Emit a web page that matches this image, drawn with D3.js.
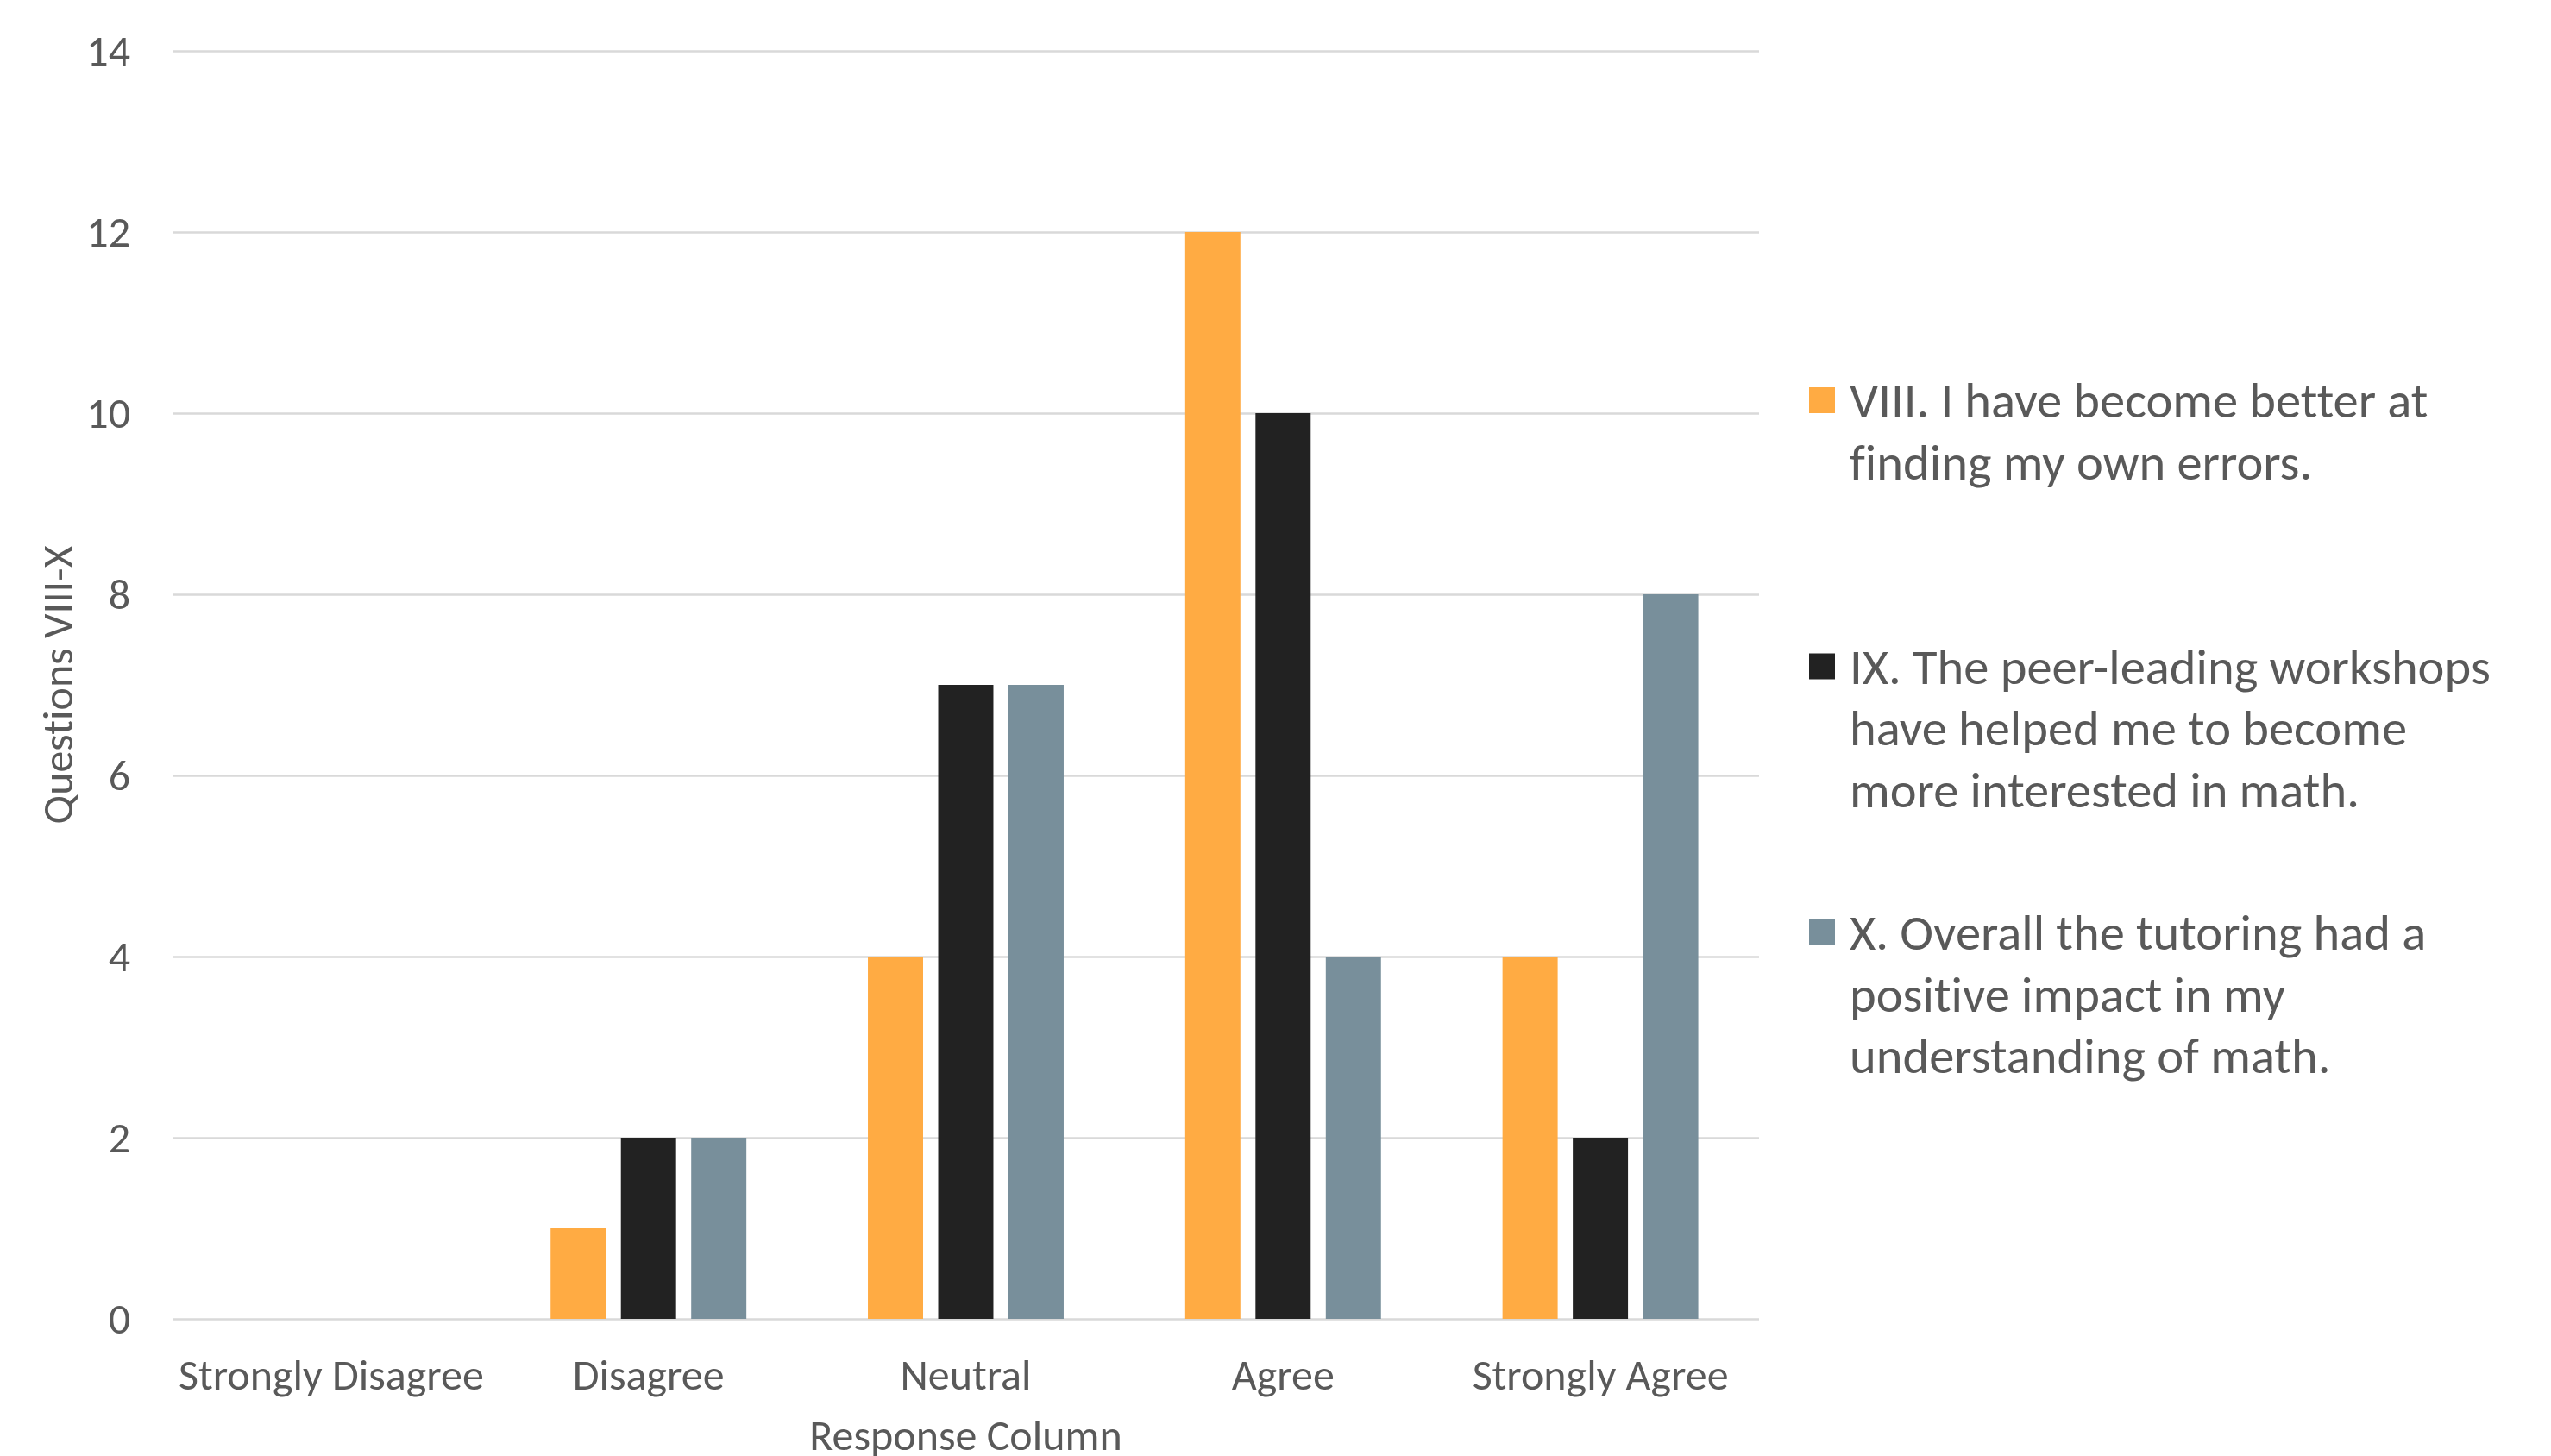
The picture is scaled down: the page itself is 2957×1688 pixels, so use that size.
<!DOCTYPE html>
<html>
<head>
<meta charset="utf-8">
<script src="https://cdn.jsdelivr.net/npm/d3@7"></script>
<style>
  body { margin: 0; background: #fff; }
  text { font-family: Carlito, Calibri, Lato, sans-serif; fill: #595959; font-variant-ligatures: none; }
</style>
</head>
<body>
<div id="container"></div>
<script>
const categories = ["Strongly Disagree", "Disagree", "Neutral", "Agree", "Strongly Agree"];
const seriesNames = [
    "VIII. I have become better at finding my own errors.",
    "IX. The peer-leading workshops have helped me to become more interested in math.",
    "X. Overall the tutoring had a positive impact in my understanding of math."
];
const legendLines = [
    ["VIII. I have become better at", "finding my own errors."],
    ["IX. The peer-leading workshops", "have helped me to become", "more interested in math."],
    ["X. Overall the tutoring had a", "positive impact in my", "understanding of math."]
];
const q8 = [0, 1, 4, 12, 4];
const q9 = [0, 2, 7, 10, 2];
const q10 = [0, 2, 7, 4, 8];
const yTicks = [0, 2, 4, 6, 8, 10, 12, 14];
const colors = ["#FFAB43", "#222222", "#788F9B"];

const width = 2957, height = 1688;
const margin = ({top: 59, right: 918, bottom: 159, left: 200});
const innerW = width - margin.left - margin.right;
const innerH = height - margin.top - margin.bottom;

const series = [q8, q9, q10];

const svg = d3.select("#container").append("svg")
    .attr("width", width)
    .attr("height", height);

const g = svg.append("g").attr("transform", "translate(" + [margin.left, margin.top] + ")");

const x0 = d3.scaleBand().domain(categories).range([0, innerW]).paddingInner(0).paddingOuter(0);
const groupW = x0.bandwidth() * 0.617;
const x1 = d3.scaleBand().domain(d3.range(series.length))
    .range([(x0.bandwidth() - groupW) / 2, (x0.bandwidth() + groupW) / 2])
    .paddingInner(0.215).paddingOuter(0);
const y = d3.scaleLinear().domain([0, 14]).range([innerH, 0]);

// gridlines
const yAxis = d3.axisLeft(y).tickValues(yTicks).tickSize(-innerW).tickPadding(49);
const ya = g.append("g").call(yAxis);
ya.select(".domain").remove();
ya.selectAll(".tick line").attr("stroke", "#D9D9D9").attr("stroke-width", 2.5);
ya.selectAll(".tick text").attr("font-size", 50).style("fill", "#595959");

// bars
const rows = categories.map((c, i) => ({cat: c, vals: series.map(s => s[i])}));
const grp = g.selectAll(".cat").data(rows).enter().append("g")
    .attr("class", "cat")
    .attr("transform", d => `translate(${x0(d.cat)},0)`);
grp.selectAll("rect").data(d => d.vals.map((v, k) => ({k, v})))
    .enter().append("rect")
    .attr("x", d => x1(d.k))
    .attr("width", x1.bandwidth())
    .attr("y", d => y(d.v))
    .attr("height", d => y(0) - y(d.v))
    .attr("fill", d => colors[d.k]);

// x axis labels
const xAxis = d3.axisBottom(x0).tickSize(0).tickPadding(46);
const xa = g.append("g").attr("transform", `translate(0,${innerH})`).call(xAxis);
xa.select(".domain").remove();
xa.selectAll(".tick text").attr("font-size", 50).style("fill", "#595959");

// axis titles
svg.append("text")
    .attr("x", margin.left + innerW / 2)
    .attr("y", 1663)
    .attr("dy", "0.35em")
    .attr("text-anchor", "middle")
    .attr("font-size", 50)
    .text("Response Column");

svg.append("text")
    .attr("transform", "translate(66," + (margin.top + innerH / 2) + ") rotate(-90)")
    .attr("dy", "0.35em")
    .attr("text-anchor", "middle")
    .attr("font-size", 50)
    .text("Questions VIII-X");

// legend
const legend = svg.append("g").attr("transform", "translate(2097,464)");
const item = legend.selectAll(".item").data(seriesNames).enter().append("g")
    .attr("class", "item")
    .attr("transform", (d, i) => `translate(0,${i * 308.5})`);
item.append("rect")
    .attr("x", 0).attr("y", -15)
    .attr("width", 30).attr("height", 30)
    .attr("fill", (d, i) => colors[i]);
item.append("text")
    .attr("x", 47)
    .attr("font-size", 58.5)
    .selectAll("tspan").data((d, i) => legendLines[i])
    .enter().append("tspan")
    .attr("x", 47)
    .attr("y", (d, j) => j * 71.5)
    .attr("dy", "0.35em")
    .text(d => d);
</script>
</body>
</html>
